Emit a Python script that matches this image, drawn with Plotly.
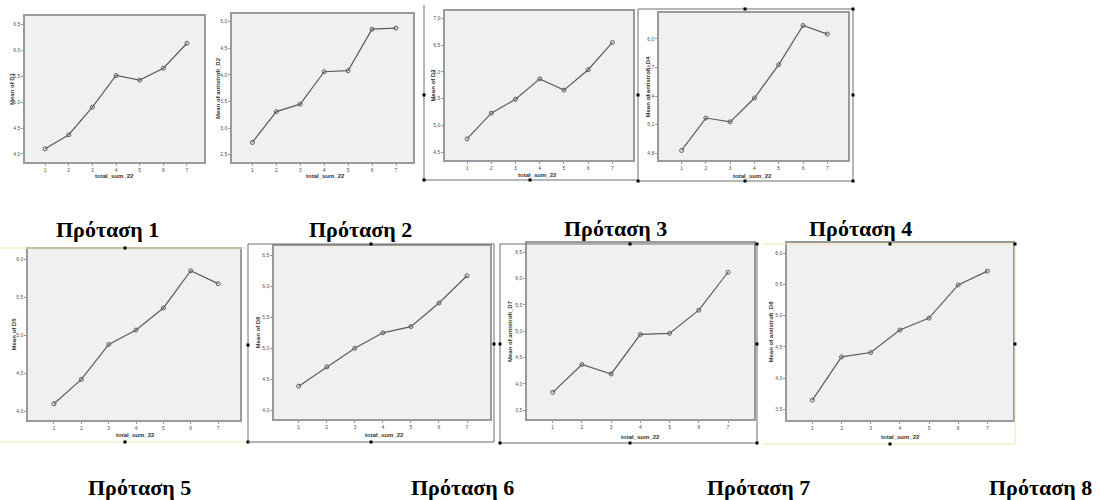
import plotly.graph_objects as go

W, H = 1100, 500

# x categories shared by every panel
total_sum_22 = [1, 2, 3, 4, 5, 6, 7]

# mean response per statement, by total_sum_22
mean_d1 = [4.10, 4.37, 4.90, 5.51, 5.42, 5.65, 6.13]
mean_d2 = [2.73, 3.31, 3.45, 4.06, 4.08, 4.86, 4.88]
mean_d3 = [4.75, 5.23, 5.49, 5.87, 5.66, 6.04, 6.55]
mean_d4 = [4.83, 5.17, 5.13, 5.38, 5.73, 6.14, 6.05]
mean_d5 = [4.10, 4.42, 4.88, 5.07, 5.36, 5.85, 5.68]
mean_d6 = [4.39, 4.70, 5.00, 5.25, 5.35, 5.73, 6.17]
mean_d7 = [3.84, 4.37, 4.19, 4.94, 4.96, 5.40, 6.12]
mean_d8 = [3.65, 4.34, 4.41, 4.77, 4.96, 5.49, 5.71]

y_titles = ["Mean of D1", "Mean of antistrofi_D2", "Mean of D3", "Mean of antistrofi_D4",
            "Mean of D5", "Mean of D6", "Mean of antistrofi_D7", "Mean of antistrofi_D8"]
x_title = "total_sum_22"
captions = ["Πρόταση 1", "Πρόταση 2", "Πρόταση 3", "Πρόταση 4",
            "Πρόταση 5", "Πρόταση 6", "Πρόταση 7", "Πρόταση 8"]

y_tickvals = [
    [4.0, 4.5, 5.0, 5.5, 6.0, 6.5],
    [2.5, 3.0, 3.5, 4.0, 4.5, 5.0],
    [4.5, 5.0, 5.5, 6.0, 6.5, 7.0],
    [4.8, 5.1, 5.4, 5.7, 6.0],
    [4.0, 4.5, 5.0, 5.5, 6.0],
    [4.0, 4.5, 5.0, 5.5, 6.0, 6.5],
    [3.5, 4.0, 4.5, 5.0, 5.5, 6.0, 6.5],
    [3.5, 4.0, 4.5, 5.0, 5.5, 6.0],
]
series = [mean_d1, mean_d2, mean_d3, mean_d4, mean_d5, mean_d6, mean_d7, mean_d8]

# plot boxes in pixels: left, top, right, bottom
boxes = [
    (25, 16, 204, 162), (232, 14, 413, 162), (445, 11, 633, 160), (659, 13, 848, 160),
    (28, 249, 240, 420), (274, 246, 490, 419), (527, 243, 754, 419), (787, 243, 1013, 420),
]
y_ranges = [
    (3.846, 6.654), (2.363, 5.145), (4.356, 7.136), (4.730, 6.271),
    (3.886, 6.136), (3.860, 6.650), (3.335, 6.675), (3.332, 6.160),
]
x_ranges = [
    (0.15, 7.72), (0.15, 7.71), (0.09, 7.85), (0.07, 7.85),
    (0.05, 7.80), (0.12, 7.82), (0.12, 7.89), (0.13, 7.88),
]
# axis title anchor points (pixels)
ytitle_x = [12, 218, 432, 647, 13, 257, 510, 770]
xtitle_pos = [(115, 176), (325, 176), (537, 175), (752, 176),
              (135, 435), (384, 435), (640, 437), (900, 437)]
caption_pos = [(107, 230), (360, 230), (615, 229), (860, 229),
               (140, 487), (462, 487), (758, 487), (1040, 487)]


def px(x):
    return x / W


def py(y):
    return 1 - y / H


LINE = "#5c5c5c"
BOX = "#9a9a9a"
TICKFONT = dict(family="Liberation Sans", size=5, color="#505050")
TITLEFONT = dict(family="Liberation Sans", size=6, color="#333333", weight="bold")

fig = go.Figure()
annotations = []
layout_axes = {}

for i in range(8):
    n = i + 1
    xa = "x" if n == 1 else f"x{n}"
    ya = "y" if n == 1 else f"y{n}"
    l, t, r, b = boxes[i]
    fig.add_trace(go.Scatter(
        x=total_sum_22, y=series[i], xaxis=xa, yaxis=ya,
        mode="lines+markers",
        line=dict(color=LINE, width=1.2),
        marker=dict(symbol="circle-open", size=4, color=LINE, line=dict(width=1)),
        showlegend=False, hoverinfo="x+y",
    ))
    key = "" if n == 1 else str(n)
    layout_axes[f"xaxis{key}"] = dict(
        domain=[px(l), px(r)], anchor=ya, range=list(x_ranges[i]),
        tickvals=total_sum_22, ticktext=[str(v) for v in total_sum_22],
        showline=True, mirror=True, linecolor=BOX, linewidth=1.5,
        ticks="outside", ticklen=2, tickcolor=BOX, tickfont=TICKFONT,
        showgrid=False, zeroline=False,
    )
    layout_axes[f"yaxis{key}"] = dict(
        domain=[py(b), py(t)], anchor=xa, range=list(y_ranges[i]),
        tickvals=y_tickvals[i],
        ticktext=[f"{v:.1f}".replace(".", ",") for v in y_tickvals[i]],
        showline=True, mirror=True, linecolor=BOX, linewidth=1.5,
        ticks="outside", ticklen=2, tickcolor=BOX, tickfont=TICKFONT,
        showgrid=False, zeroline=False,
    )
    annotations.append(dict(
        text=y_titles[i], x=px(ytitle_x[i]), y=py((t + b) / 2), xref="paper", yref="paper",
        textangle=-90, showarrow=False, xanchor="center", yanchor="middle", font=TITLEFONT,
    ))
    annotations.append(dict(
        text=x_title, x=px(xtitle_pos[i][0]), y=py(xtitle_pos[i][1]), xref="paper", yref="paper",
        showarrow=False, xanchor="center", yanchor="middle", font=TITLEFONT,
    ))
    annotations.append(dict(
        text=captions[i], x=px(caption_pos[i][0]), y=py(caption_pos[i][1]),
        xref="paper", yref="paper", showarrow=False, xanchor="center", yanchor="middle",
        font=dict(family="Liberation Serif", size=22, color="#000000", weight="bold"),
    ))

# object frames with selection handles around the embedded charts
shapes = []


def frame_line(x0, y0, x1, y1, color):
    shapes.append(dict(type="line", xref="paper", yref="paper",
                       x0=px(x0), y0=py(y0), x1=px(x1), y1=py(y1),
                       line=dict(color=color, width=1)))


def handle(x, y):
    shapes.append(dict(type="rect", xref="paper", yref="paper",
                       x0=px(x - 1.5), y0=py(y + 1.5), x1=px(x + 1.5), y1=py(y - 1.5),
                       line=dict(width=0), fillcolor="#000000"))


GREY = "#6e6e6e"
YEL = "#f5e6b0"
# chart 3: left and bottom edges
frame_line(424, 5, 424, 180, GREY)
frame_line(424, 180, 636, 180, GREY)
for hx, hy in [(424, 95), (530, 180), (424, 180)]:
    handle(hx, hy)
# chart 4: full frame
frame_line(638, 9, 853, 9, GREY)
frame_line(638, 181, 853, 181, GREY)
frame_line(638, 9, 638, 181, GREY)
frame_line(853, 9, 853, 181, GREY)
for hx, hy in [(745, 9), (745, 181), (638, 95), (853, 95), (638, 181), (853, 181), (853, 9)]:
    handle(hx, hy)
# chart 5
frame_line(0, 248, 246, 248, YEL)
frame_line(0, 442, 246, 442, YEL)
frame_line(248, 244, 248, 442, GREY)
for hx, hy in [(125, 248), (125, 442), (248, 345), (248, 442)]:
    handle(hx, hy)
# chart 6
frame_line(248, 244, 494, 244, GREY)
frame_line(248, 442, 494, 442, GREY)
frame_line(494, 244, 494, 442, GREY)
for hx, hy in [(371, 244), (371, 442), (494, 344)]:
    handle(hx, hy)
# chart 7
frame_line(500, 244, 757, 244, GREY)
frame_line(500, 443, 757, 443, GREY)
frame_line(500, 244, 500, 443, GREY)
frame_line(757, 244, 757, 443, GREY)
for hx, hy in [(630, 244), (630, 443), (500, 344), (757, 344), (500, 443), (757, 244), (757, 443)]:
    handle(hx, hy)
# chart 8
frame_line(762, 244, 1015, 244, YEL)
frame_line(762, 444, 1015, 444, YEL)
frame_line(1015, 244, 1015, 444, YEL)
for hx, hy in [(890, 244), (890, 444), (1015, 344), (1015, 244)]:
    handle(hx, hy)

fig.update_layout(
    width=W, height=H,
    margin=dict(l=0, r=0, t=0, b=0),
    paper_bgcolor="#ffffff",
    plot_bgcolor="#f0f0f0",
    annotations=annotations,
    shapes=shapes,
    **layout_axes,
)

fig.write_html("out.html")
